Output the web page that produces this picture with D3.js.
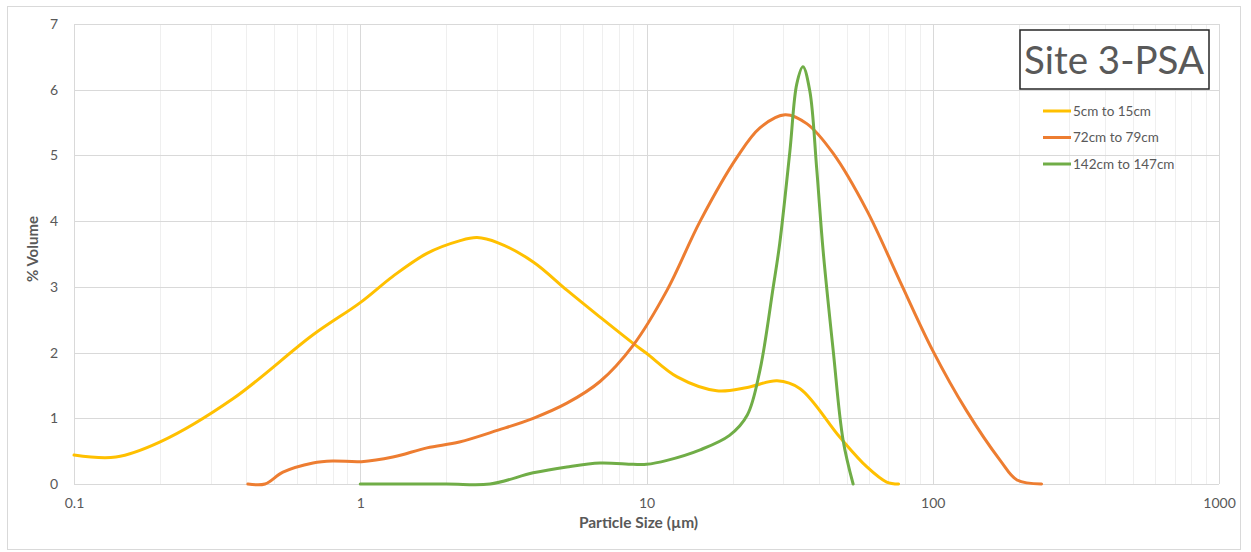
<!DOCTYPE html>
<html>
<head>
<meta charset="utf-8">
<script src="https://cdn.jsdelivr.net/npm/d3@7"></script>
<style>
  html, body { margin: 0; padding: 0; background: #fff; }
  svg { display: block; }
</style>
</head>
<body>
<svg id="chart" width="1251" height="552"></svg>
<script>
// Particle size distribution, three depth intervals
const seriesNames = ["5cm to 15cm", "72cm to 79cm", "142cm to 147cm"];
const seriesColors = ["#FFC000", "#ED7D31", "#70AD47"];

const sizeA = [0.1, 0.14, 0.2, 0.36, 0.684, 1.0, 1.3, 1.71, 2.22, 2.56, 3.03, 4.02, 5.27, 6.88, 8.98, 10, 12.8, 17.6, 22.5, 28.6, 34.4, 47.4, 58.9, 69, 76];
const volA  = [0.44, 0.41, 0.64, 1.30, 2.27, 2.76, 3.16, 3.51, 3.70, 3.75, 3.67, 3.38, 2.95, 2.54, 2.14, 1.99, 1.63, 1.42, 1.47, 1.57, 1.45, 0.71, 0.26, 0.03, 0];

const sizeB = [0.405, 0.465, 0.537, 0.684, 0.8, 1.01, 1.3, 1.71, 2.22, 3.03, 4.02, 5.27, 6.88, 8.98, 11.8, 15.4, 20.7, 24.9, 30.5, 36.4, 44.9, 58.9, 76.9, 100, 131, 172, 197, 240];
const volB  = [0, 0, 0.18, 0.32, 0.35, 0.34, 0.41, 0.55, 0.64, 0.82, 1.0, 1.23, 1.56, 2.11, 2.95, 4.0, 4.97, 5.42, 5.62, 5.48, 5.03, 4.16, 3.08, 2.03, 1.12, 0.36, 0.06, 0];

const sizeC = [1.0, 2.0, 2.84, 4.02, 5.27, 6.88, 8.98, 10, 11.8, 15.4, 19.5, 22.5, 24.9, 27.7, 29.2, 31.7, 33.5, 35.2, 37.2, 39.3, 41.4, 44.9, 48.6, 52.7];
const volC  = [0, 0, 0, 0.17, 0.26, 0.32, 0.30, 0.30, 0.36, 0.52, 0.74, 1.05, 1.73, 2.99, 3.66, 5.07, 6.09, 6.35, 5.98, 4.81, 3.55, 2.03, 0.67, 0];

const xTickValues = [0.1, 1, 10, 100, 1000];
const xTickLabels = ["0.1", "1", "10", "100", "1000"];
const yTickValues = [0, 1, 2, 3, 4, 5, 6, 7];

const series = [
  { name: seriesNames[0], color: seriesColors[0], x: sizeA, y: volA },
  { name: seriesNames[1], color: seriesColors[1], x: sizeB, y: volB },
  { name: seriesNames[2], color: seriesColors[2], x: sizeC, y: volC }
];

const svg = d3.select("#chart");
const margin = { left: 74, top: 24, right: 1219, bottom: 484 };
const font = "Lato, 'Open Sans', sans-serif";

// outer chart frame
svg.append("rect")
  .attr("x", 7.5).attr("y", 6.5).attr("width", 1233).attr("height", 543)
  .attr("fill", "#fff").attr("stroke", "#d9d9d9").attr("stroke-width", 1);

const x = d3.scaleLog().domain([0.1, 1000]).range([margin.left, margin.right]);
const y = d3.scaleLinear().domain([0, 7]).range([margin.bottom, margin.top]);

// minor vertical gridlines
const minor = [];
[0.1, 1, 10, 100].forEach(d => { for (let k = 2; k <= 9; k++) minor.push(d * k); });
svg.append("g").selectAll("line").data(minor).join("line")
  .attr("x1", d => Math.round(x(d)) + 0.5).attr("x2", d => Math.round(x(d)) + 0.5)
  .attr("y1", margin.top).attr("y2", margin.bottom)
  .attr("stroke", "#efefef").attr("stroke-width", 1);

// major gridlines
svg.append("g").selectAll("line").data(xTickValues).join("line")
  .attr("x1", d => Math.round(x(d)) + 0.5).attr("x2", d => Math.round(x(d)) + 0.5)
  .attr("y1", margin.top).attr("y2", margin.bottom)
  .attr("stroke", "#d9d9d9").attr("stroke-width", 1);
svg.append("g").selectAll("line").data(yTickValues).join("line")
  .attr("x1", margin.left).attr("x2", margin.right)
  .attr("y1", d => Math.round(y(d)) + 0.5).attr("y2", d => Math.round(y(d)) + 0.5)
  .attr("stroke", "#d9d9d9").attr("stroke-width", 1);

// axes (labels only, lines come from the grid)
const xAxis = d3.axisBottom(x).tickValues(xTickValues)
  .tickFormat((d, i) => xTickLabels[i]).tickSize(0).tickPadding(14);
svg.append("g").attr("transform", `translate(0,${margin.bottom})`).call(xAxis)
  .call(g => g.select(".domain").remove())
  .selectAll("text").attr("font-family", font).attr("font-size", 14).attr("fill", "#595959");

const yAxis = d3.axisLeft(y).tickValues(yTickValues).tickFormat(d3.format("d"))
  .tickSize(0).tickPadding(16);
svg.append("g").attr("transform", `translate(${margin.left},0)`).call(yAxis)
  .call(g => g.select(".domain").remove())
  .selectAll("text").attr("font-family", font).attr("font-size", 14).attr("fill", "#595959");

// axis titles
svg.append("text")
  .attr("x", (margin.left + margin.right) / 2 - 8).attr("y", 528)
  .attr("text-anchor", "middle").attr("font-family", font).attr("font-weight", "bold")
  .attr("font-size", 15.5).attr("fill", "#595959").text("Particle Size (µm)");
svg.append("text")
  .attr("transform", `translate(38,${(margin.top + margin.bottom) / 2 - 5}) rotate(-90)`)
  .attr("text-anchor", "middle").attr("font-family", font).attr("font-weight", "bold")
  .attr("font-size", 15).attr("fill", "#595959").text("% Volume");

// series curves
const line = d3.line()
  .x(d => x(d[0])).y(d => y(d[1]))
  .curve(d3.curveCatmullRom.alpha(0.5));
svg.append("g").selectAll("path").data(series).join("path")
  .attr("d", s => line(s.x.map((v, i) => [v, s.y[i]])))
  .attr("fill", "none").attr("stroke", s => s.color)
  .attr("stroke-width", 3).attr("stroke-linejoin", "round").attr("stroke-linecap", "round");

// title box
svg.append("rect")
  .attr("x", 1020).attr("y", 30).attr("width", 189).attr("height", 59)
  .attr("fill", "#fff").attr("stroke", "#262626").attr("stroke-width", 1.5);
svg.append("text")
  .attr("x", 1114).attr("y", 74).attr("text-anchor", "middle")
  .attr("font-family", font).attr("font-size", 38.5).attr("fill", "#595959")
  .text("Site 3-PSA");

// legend
const legend = svg.append("g").selectAll("g").data(series).join("g")
  .attr("transform", (d, i) => `translate(1043,${111 + i * 26.5})`);
legend.append("line").attr("x1", 0).attr("x2", 28).attr("y1", 0).attr("y2", 0)
  .attr("stroke", d => d.color).attr("stroke-width", 3);
legend.append("text").attr("x", 30).attr("y", 4.5)
  .attr("font-family", font).attr("font-size", 13.5).attr("fill", "#595959")
  .text(d => d.name);
</script>
</body>
</html>
